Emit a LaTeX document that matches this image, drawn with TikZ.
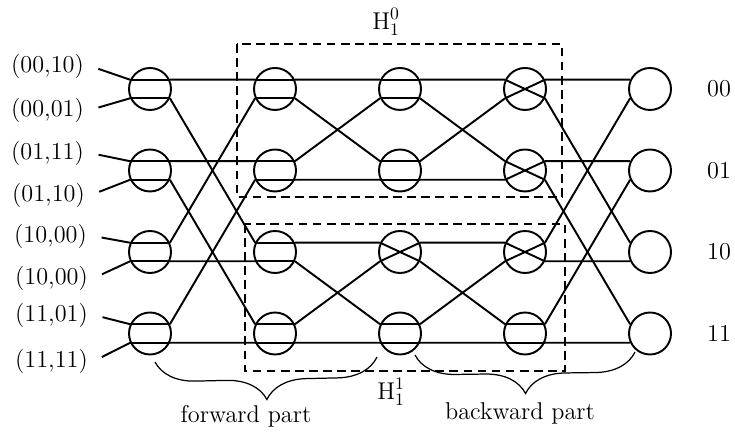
\documentclass[tikz,border=0pt]{standalone}
\usepackage{fontspec}
\usetikzlibrary{decorations.pathreplacing}

\begin{document}
\begin{tikzpicture}[node distance=2.5cm,>=stealth,line width=1.1pt]
    \tikzstyle{sw}=[circle, draw, minimum size=0.84cm, inner sep=0pt]
    \tikzstyle{lbl}=[font=\fontsize{13.8}{16}\selectfont, inner sep=3pt]
    \tikzstyle{hbox}=[line width=0.6pt, dash pattern=on 5pt off 3pt]
    \tikzstyle{brc}=[line width=0.7pt, decorate, decoration={brace, mirror, amplitude=0.8cm}]
    \useasboundingbox (0,0) rectangle (14.7,-8.76);
    % switches
    \node[sw] (a1) at (3,-1.78) {};
    \node[sw, node distance=1.63cm, below of=a1] (a2) {};
    \node[sw, node distance=1.63cm, below of=a2] (a3) {};
    \node[sw, node distance=1.63cm, below of=a3] (a4) {};
    \node[sw, right of=a1] (b1) {};
    \node[sw, right of=a2] (b2) {};
    \node[sw, right of=a3] (b3) {};
    \node[sw, right of=a4] (b4) {};
    \node[sw, right of=b1] (c1) {};
    \node[sw, right of=b2] (c2) {};
    \node[sw, right of=b3] (c3) {};
    \node[sw, right of=b4] (c4) {};
    \node[sw, right of=c1] (d1) {};
    \node[sw, right of=c2] (d2) {};
    \node[sw, right of=c3] (d3) {};
    \node[sw, right of=c4] (d4) {};
    \node[sw, right of=d1] (e1) {};
    \node[sw, right of=d2] (e2) {};
    \node[sw, right of=d3] (e3) {};
    \node[sw, right of=d4] (e4) {};
    % inputs and outputs
    \node[lbl, anchor=east] (i1) at (1.80,-1.32) {(00,10)};
    \node[lbl, anchor=east] (i2) at (1.80,-2.20) {(00,01)};
    \node[lbl, anchor=east] (i3) at (1.80,-3.06) {(01,11)};
    \node[lbl, anchor=east] (i4) at (1.82,-3.90) {(01,10)};
    \node[lbl, anchor=east] (i5) at (1.86,-4.72) {(10,00)};
    \node[lbl, anchor=east] (i6) at (1.88,-5.56) {(10,00)};
    \node[lbl, anchor=east] (i7) at (1.88,-6.30) {(11,01)};
    \node[lbl, anchor=east] (i8) at (1.88,-7.22) {(11,11)};
    \node[lbl, node distance=1.38cm, right of=e1] (o1) {00};
    \node[lbl, node distance=1.38cm, right of=e2] (o2) {01};
    \node[lbl, node distance=1.38cm, right of=e3] (o3) {10};
    \node[lbl, node distance=1.38cm, right of=e4] (o4) {11};
    \draw[shorten <=5pt] (i1.east) -- (a1.155);
    \draw[shorten <=5pt] (i2.east) -- (a1.205);
    \draw[shorten <=5pt] (i3.east) -- (a2.155);
    \draw[shorten <=5pt] (i4.east) -- (a2.205);
    \draw[shorten <=5pt] (i5.east) -- (a3.155);
    \draw[shorten <=5pt] (i6.east) -- (a3.205);
    \draw[shorten <=5pt] (i7.east) -- (a4.155);
    \draw[shorten <=5pt] (i8.east) -- (a4.205);
    % links between columns
    \draw (a1.25) -- (b1.155) (a1.335) -- (b3.155);
    \draw (a2.25) -- (b2.155) (a2.335) -- (b4.155);
    \draw (a3.25) -- (b1.205) (a3.335) -- (b3.205);
    \draw (a4.25) -- (b2.205) (a4.335) -- (b4.205);
    \draw (b1.25) -- (c1.155) (b1.335) -- (c2.155);
    \draw (b2.25) -- (c1.205) (b2.335) -- (c2.205);
    \draw (b3.25) -- (c3.155) (b3.335) -- (c4.155);
    \draw (b4.25) -- (c3.205) (b4.335) -- (c4.205);
    \draw (c1.25) -- (d1.155) (c1.335) -- (d2.155);
    \draw (c2.25) -- (d1.205) (c2.335) -- (d2.205);
    \draw (c3.25) -- (d3.155) (c3.335) -- (d4.155);
    \draw (c4.25) -- (d3.205) (c4.335) -- (d4.205);
    \draw (d1.25) -- (e1.155) (d1.335) -- (e3.155);
    \draw (d2.25) -- (e2.155) (d2.335) -- (e4.155);
    \draw (d3.25) -- (e1.205) (d3.335) -- (e3.205);
    \draw (d4.25) -- (e2.205) (d4.335) -- (e4.205);
    % switch settings
    \draw (a1.155) -- (a1.25) (a1.205) -- (a1.335);
    \draw (a2.155) -- (a2.25) (a2.205) -- (a2.335);
    \draw (a3.155) -- (a3.25) (a3.205) -- (a3.335);
    \draw (a4.155) -- (a4.25) (a4.205) -- (a4.335);
    \draw (b1.155) -- (b1.25) (b1.205) -- (b1.335);
    \draw (b2.155) -- (b2.25) (b2.205) -- (b2.335);
    \draw (b3.155) -- (b3.25) (b3.205) -- (b3.335);
    \draw (b4.155) -- (b4.25) (b4.205) -- (b4.335);
    \draw (c1.155) -- (c1.25) (c1.205) -- (c1.335);
    \draw (c2.155) -- (c2.25) (c2.205) -- (c2.335);
    \draw (c3.155) -- (c3.335) (c3.205) -- (c3.25);
    \draw (c4.155) -- (c4.25) (c4.205) -- (c4.335);
    \draw (d1.155) -- (d1.335) (d1.205) -- (d1.25);
    \draw (d2.155) -- (d2.335) (d2.205) -- (d2.25);
    \draw (d3.155) -- (d3.335) (d3.205) -- (d3.25);
    \draw (d4.155) -- (d4.25) (d4.205) -- (d4.335);
    % subnetworks
    \draw[hbox] (4.74,-0.88) rectangle (11.24,-3.94);
    \draw[hbox] (4.90,-4.48) rectangle (11.30,-7.42);
    \node[lbl] (h0) at (7.72,-0.44) {H$_1^0$};
    \node[lbl] (h1) at (7.82,-7.84) {H$_1^1$};
    % parts
    \draw[brc] (3.10,-7.24) -- (7.54,-7.14);
    \draw[brc] (8.30,-7.10) -- (12.70,-7.04);
    \node[lbl] (fwd) at (4.92,-8.32) {forward part};
    \node[lbl] (bwd) at (10.40,-8.26) {backward part};
\end{tikzpicture}
\end{document}
